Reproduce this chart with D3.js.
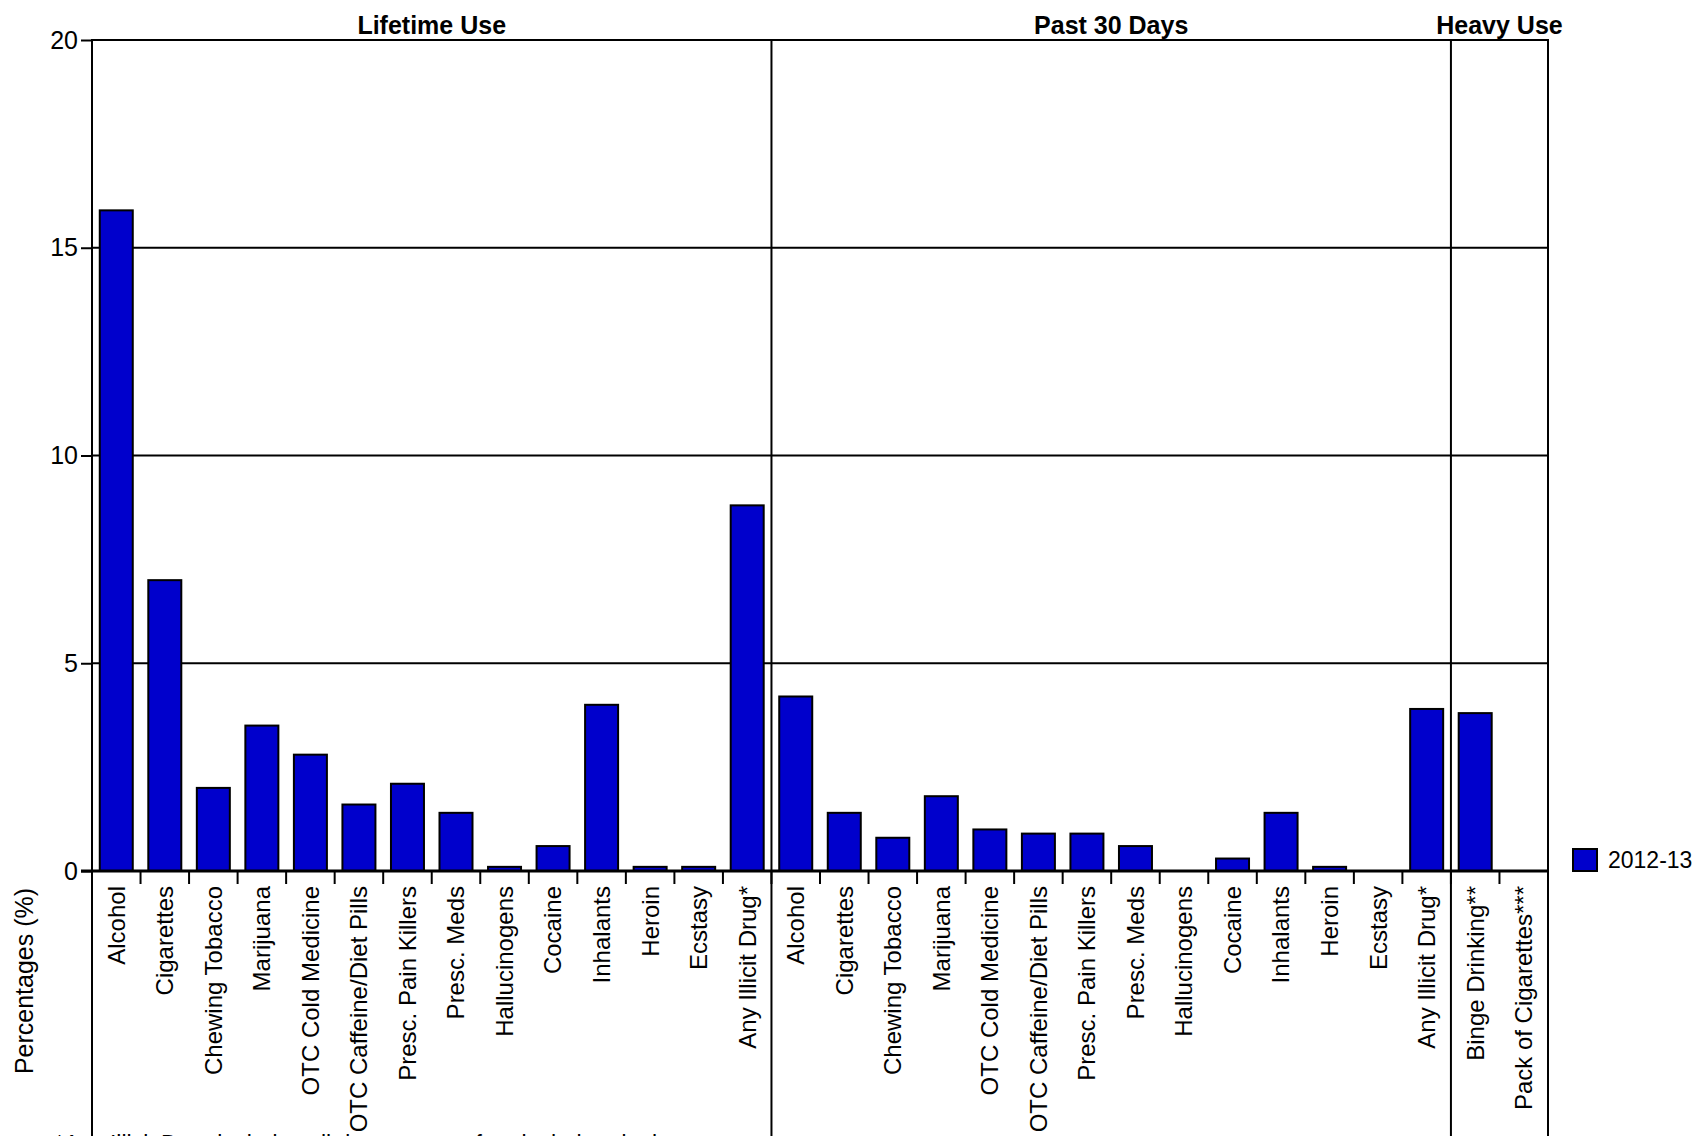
<!DOCTYPE html>
<html>
<head>
<meta charset="utf-8">
<script src="https://cdn.jsdelivr.net/npm/d3@7"></script>
<style>
  html, body { margin: 0; padding: 0; background: #fff; }
  svg { display: block; font-family: "Liberation Sans", Arial, sans-serif; }
</style>
</head>
<body>
<svg id="chart" width="1695" height="1136"></svg>
<script>
// ---- DATA ----
const groups = ["Lifetime Use", "Past 30 Days", "Heavy Use"];
const lifetimeCategories = ["Alcohol", "Cigarettes", "Chewing Tobacco", "Marijuana", "OTC Cold Medicine",
  "OTC Caffeine/Diet Pills", "Presc. Pain Killers", "Presc. Meds", "Hallucinogens", "Cocaine",
  "Inhalants", "Heroin", "Ecstasy", "Any Illicit Drug*"];
const lifetimeValues = [15.9, 7.0, 2.0, 3.5, 2.8, 1.6, 2.1, 1.4, 0.1, 0.6, 4.0, 0.1, 0.1, 8.8];
const past30Categories = ["Alcohol", "Cigarettes", "Chewing Tobacco", "Marijuana", "OTC Cold Medicine",
  "OTC Caffeine/Diet Pills", "Presc. Pain Killers", "Presc. Meds", "Hallucinogens", "Cocaine",
  "Inhalants", "Heroin", "Ecstasy", "Any Illicit Drug*"];
const past30Values = [4.2, 1.4, 0.8, 1.8, 1.0, 0.9, 0.9, 0.6, 0.0, 0.3, 1.4, 0.1, 0.0, 3.9];
const heavyCategories = ["Binge Drinking**", "Pack of Cigarettes***"];
const heavyValues = [3.8, 0.0];
const yTicks = [0, 5, 10, 15, 20];
const seriesName = "2012-13";
const yTitle = "Percentages (%)";
const footnote = "*Any Illicit Drug includes all drugs except for alcohol and tobacco";

// ---- BUILD ----
(function () {
const rows = [];
[[lifetimeCategories, lifetimeValues], [past30Categories, past30Values], [heavyCategories, heavyValues]]
  .forEach(([cats, vals], gi) => cats.forEach((c, i) => rows.push({ key: gi + "|" + c, group: gi, name: c, value: vals[i] })));

const svg = d3.select("#chart");
const W = 1695, H = 1136;
const mLeft = 92, mRight = 1548, mTop = 40, mBottom = 871;
const barColor = "#0000CC";

const x = d3.scaleBand().domain(rows.map(d => d.key)).range([mLeft, mRight])
  .paddingInner(0.32).paddingOuter(0.16);
const y = d3.scaleLinear().domain([0, 20]).range([mBottom, mTop]);
const step = x.step();
const boundary = i => mLeft + i * step;

// gridlines
svg.append("g").selectAll("line").data(yTicks.filter(t => t > 0)).join("line")
  .attr("x1", mLeft).attr("x2", mRight)
  .attr("y1", d => y(d)).attr("y2", d => y(d))
  .attr("stroke", "#000").attr("stroke-width", 2);

// bars
svg.append("g").selectAll("rect").data(rows.filter(d => d.value > 0)).join("rect")
  .attr("x", d => x(d.key)).attr("width", x.bandwidth())
  .attr("y", d => y(d.value)).attr("height", d => y(0) - y(d.value))
  .attr("fill", barColor).attr("stroke", "#000").attr("stroke-width", 2);

// group separators & frame verticals
const counts = [lifetimeCategories.length, past30Categories.length, heavyCategories.length];
const sepIdx = [0, counts[0], counts[0] + counts[1], counts[0] + counts[1] + counts[2]];
svg.append("g").selectAll("line").data(sepIdx).join("line")
  .attr("x1", d => boundary(d)).attr("x2", d => boundary(d))
  .attr("y1", mTop - 1).attr("y2", H)
  .attr("stroke", "#000").attr("stroke-width", 2);

// category tick marks
svg.append("g").selectAll("line").data(d3.range(rows.length + 1)).join("line")
  .attr("x1", d => boundary(d)).attr("x2", d => boundary(d))
  .attr("y1", mBottom).attr("y2", mBottom + 13)
  .attr("stroke", "#000").attr("stroke-width", 2);

// zero axis line
svg.append("line").attr("x1", mLeft - 11).attr("x2", mRight).attr("y1", y(0)).attr("y2", y(0))
  .attr("stroke", "#000").attr("stroke-width", 3);

// y axis
const yAxis = svg.append("g").attr("transform", `translate(${mLeft},0)`)
  .call(d3.axisLeft(y).tickValues(yTicks).tickSize(11).tickPadding(3));
yAxis.select(".domain").remove();
yAxis.selectAll(".tick line").attr("stroke", "#000").attr("stroke-width", 2);
yAxis.selectAll(".tick text").attr("font-size", 25).attr("fill", "#000")
  .attr("font-family", "'Liberation Sans', Arial, sans-serif");

// category labels
svg.append("g").selectAll("text").data(rows).join("text")
  .attr("transform", d => `translate(${x(d.key) + x.bandwidth() / 2},886) rotate(-90)`)
  .attr("text-anchor", "end").attr("dy", "0.35em")
  .attr("font-size", 24).attr("fill", "#000")
  .text(d => d.name);

// group titles
svg.append("g").selectAll("text").data(groups).join("text")
  .attr("x", (d, i) => (boundary(sepIdx[i]) + boundary(sepIdx[i + 1])) / 2)
  .attr("y", 34).attr("text-anchor", "middle")
  .attr("font-size", 25).attr("font-weight", "bold").attr("fill", "#000")
  .text(d => d);

// y title
svg.append("text").attr("transform", "translate(24,981) rotate(-90)")
  .attr("text-anchor", "middle").attr("dy", "0.35em")
  .attr("font-size", 25).attr("fill", "#000").text(yTitle);

// legend
const lg = svg.append("g").attr("transform", "translate(1573,849)");
lg.append("rect").attr("width", 24).attr("height", 22)
  .attr("fill", barColor).attr("stroke", "#000").attr("stroke-width", 2);
lg.append("text").attr("x", 35).attr("y", 11).attr("dy", "0.35em")
  .attr("font-size", 23).attr("fill", "#000").text(seriesName);

// footnote (cut off at bottom, as in the source image)
svg.append("text").attr("x", 55).attr("y", 1152)
  .attr("font-size", 23).attr("fill", "#000").text(footnote);
})();
</script>
</body>
</html>
